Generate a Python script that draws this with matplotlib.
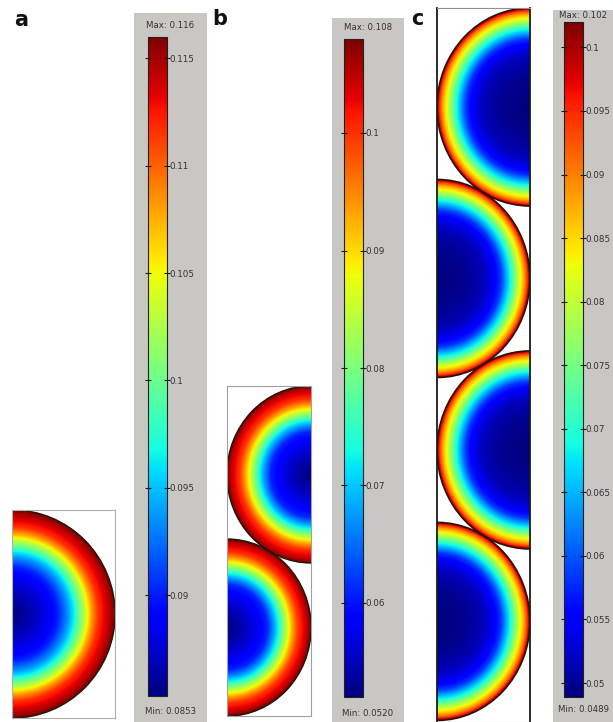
import numpy as np
import matplotlib
matplotlib.use("Agg")
import matplotlib.pyplot as plt
from matplotlib.patches import Arc, Rectangle
from matplotlib.colors import Normalize
from matplotlib.colorbar import ColorbarBase

W, H = 613, 722
DPI = 100

# ---------------- data ----------------
# radial position (fraction of sphere radius) and concentration value
a_r = [0, 0.2, 0.35, 0.45, 0.55, 0.6, 0.65, 0.71, 0.77, 0.84, 0.93, 1.0]
a_v = [0.0853, 0.0868, 0.0884, 0.0902, 0.0939, 0.0964, 0.0997, 0.1033, 0.1078, 0.1117, 0.1140, 0.1160]
a_min, a_max = 0.0853, 0.116
a_ticks = [0.115, 0.11, 0.105, 0.1, 0.095, 0.09]
a_ticklabels = ["0.115", "0.11", "0.105", "0.1", "0.095", "0.09"]

b_r = [0, 0.2, 0.35, 0.48, 0.56, 0.61, 0.66, 0.72, 0.78, 0.85, 0.94, 1.0]
b_v = [0.052, 0.0548, 0.0576, 0.0610, 0.0677, 0.0727, 0.0789, 0.0856, 0.0930, 0.0998, 0.1041, 0.108]
b_min, b_max = 0.0520, 0.108
b_ticks = [0.1, 0.09, 0.08, 0.07, 0.06]
b_ticklabels = ["0.1", "0.09", "0.08", "0.07", "0.06"]

c_r = [0, 0.3, 0.5, 0.62, 0.69, 0.75, 0.79, 0.84, 0.89, 0.94, 0.975, 1.0]
c_v = [0.0489, 0.0497, 0.0516, 0.0547, 0.0585, 0.0648, 0.0691, 0.0755, 0.0818, 0.0882, 0.0946, 0.102]
c_min, c_max = 0.0489, 0.102
c_ticks = [0.1, 0.095, 0.09, 0.085, 0.08, 0.075, 0.07, 0.065, 0.06, 0.055, 0.05]
c_ticklabels = ["0.1", "0.095", "0.09", "0.085", "0.08", "0.075", "0.07", "0.065", "0.06", "0.055", "0.05"]

max_labels = ["Max: 0.116", "Max: 0.108", "Max: 0.102"]
min_labels = ["Min: 0.0853", "Min: 0.0520", "Min: 0.0489"]
panel_letters = ["a", "b", "c"]

S3 = np.sqrt(3.0)

fig = plt.figure(figsize=(W / DPI, H / DPI), dpi=DPI)
fig.patch.set_facecolor("white")
cmap = plt.get_cmap("jet")

# background axes for the grey colour-bar panels
bgax = fig.add_axes([0, 0, 1, 1], zorder=-5)
bgax.set_xlim(0, W)
bgax.set_ylim(H, 0)
bgax.axis("off")


def box(x0, y0, x1, y1):
    return [x0 / W, 1 - y1 / H, (x1 - x0) / W, (y1 - y0) / H]


def geometry(px, xlim, ylim, circles, prof_r, prof_v, vmin, vmax, side_color, top_color, side_lw):
    ax = fig.add_axes(box(*px))
    nx, ny = 300, int(300 * (ylim[1] - ylim[0]))
    xs = np.linspace(xlim[0], xlim[1], nx)
    ys = np.linspace(ylim[0], ylim[1], ny)
    X, Y = np.meshgrid(xs, ys)
    field = np.full(X.shape, np.nan)
    for (cx, cy, t1, t2) in circles:
        R = np.hypot(X - cx, Y - cy)
        inside = R <= 1.0
        field[inside] = np.interp(R[inside], prof_r, prof_v)
    ax.imshow(field, extent=[xlim[0], xlim[1], ylim[0], ylim[1]], origin="lower",
              cmap=cmap, vmin=vmin, vmax=vmax, aspect="auto", interpolation="bilinear")
    for (cx, cy, t1, t2) in circles:
        ax.add_patch(Arc((cx, cy), 2, 2, theta1=t1, theta2=t2, color="#2a1208", lw=1.2))
    ax.set_xlim(*xlim)
    ax.set_ylim(*ylim)
    ax.set_xticks([])
    ax.set_yticks([])
    for s in ("left", "right"):
        ax.spines[s].set_color(side_color)
        ax.spines[s].set_linewidth(side_lw)
    for s in ("top", "bottom"):
        ax.spines[s].set_color(top_color)
        ax.spines[s].set_linewidth(0.8)
    return ax


def colorbar(bg, bar, vmin, vmax, ticks, labels, maxlab, minlab, maxy, miny):
    bgax.add_patch(Rectangle((bg[0], bg[1]), bg[2] - bg[0], bg[3] - bg[1],
                             facecolor="#c9c7c3", edgecolor="none"))
    cax = fig.add_axes(box(*bar))
    cb = ColorbarBase(cax, cmap=cmap, norm=Normalize(vmin, vmax), orientation="vertical")
    cb.set_ticks(ticks)
    cb.set_ticklabels(labels)
    cb.outline.set_edgecolor("#202020")
    cb.outline.set_linewidth(0.8)
    cax.tick_params(axis="y", which="both", direction="inout", length=4, width=0.8,
                    color="#1a1a1a", left=True, right=True, labelleft=False,
                    labelright=True, labelsize=6.3, labelcolor="#333333", pad=0)
    cx = (bg[0] + bg[2]) / 2
    bgax.text(cx, maxy, maxlab, ha="center", va="center", fontsize=6.2, color="#333333")
    bgax.text(cx, miny, minlab, ha="center", va="center", fontsize=6.2, color="#333333")


# panel a
geometry((12, 510, 115, 718), (0, 1), (-1, 1), [(0, 0, -90, 90)],
         a_r, a_v, a_min, a_max, "#b0b0b0", "#b0b0b0", 0.8)
# panel b
geometry((227, 386, 311, 716), (0, 1), (-1 - S3, 1), [(1, 0, 90, 270), (0, -S3, -90, 90)],
         b_r, b_v, b_min, b_max, "#a0a0a0", "#a0a0a0", 0.8)
# panel c
geometry((437, 8, 530, 722), (0, 1), (1 - 714 / 99.0, 1),
         [(1, 0, 90, 270), (0, -S3, -90, 90), (1, -2 * S3, 90, 270), (0, -3 * S3, -90, 90)],
         c_r, c_v, c_min, c_max, "#1a1a1a", "#909090", 1.3)

colorbar((134, 13, 207, 722), (148, 37, 167, 696), a_min, a_max, a_ticks, a_ticklabels,
         max_labels[0], min_labels[0], 26, 712)
colorbar((332, 18, 404, 722), (344, 39, 363, 697), b_min, b_max, b_ticks, b_ticklabels,
         max_labels[1], min_labels[1], 28, 713)
colorbar((553, 10, 613, 722), (564, 22, 583, 697), c_min, c_max, c_ticks, c_ticklabels,
         max_labels[2], min_labels[2], 15, 710)

for letter, (x, y) in zip(panel_letters, [(14, 26), (212, 25), (411, 25)]):
    bgax.text(x, y, letter, ha="left", va="baseline", fontsize=15,
              fontweight="bold", color="#111111")

fig.savefig("out.png", dpi=DPI)
